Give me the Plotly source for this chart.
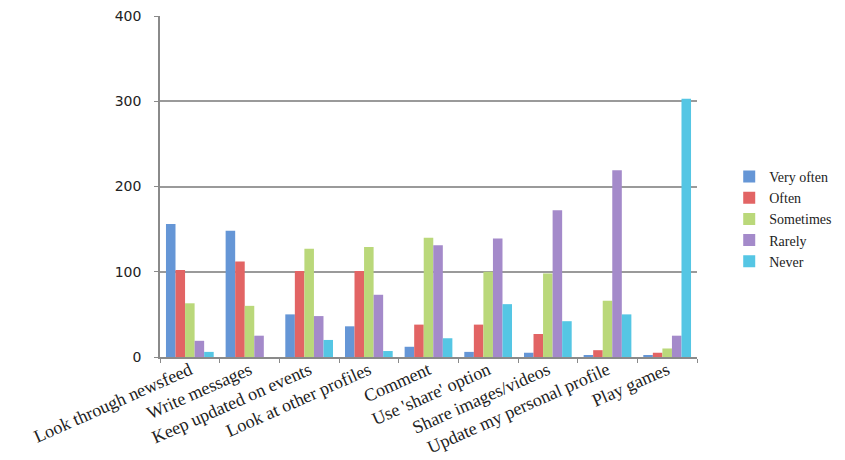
import plotly.graph_objects as go

categories = ["Look through newsfeed", "Write messages", "Keep updated on events",
              "Look at other profiles", "Comment", "Use 'share' option",
              "Share images/videos", "Update my personal profile", "Play games"]
very_often = [156, 148, 50, 36, 12, 6, 5, 2, 2]
often = [102, 112, 101, 101, 38, 38, 27, 8, 5]
sometimes = [63, 60, 127, 129, 140, 100, 98, 66, 10]
rarely = [19, 25, 48, 73, 131, 139, 172, 219, 25]
never = [6, 0, 20, 7, 22, 62, 42, 50, 303]

series = [("Very often", very_often, "#6596d6"),
          ("Often", often, "#e26464"),
          ("Sometimes", sometimes, "#bad87a"),
          ("Rarely", rarely, "#a48aca"),
          ("Never", never, "#55c6e4")]

fig = go.Figure()
for name, vals, col in series:
    fig.add_trace(go.Bar(x=categories, y=vals, name=name, marker_color=col,
                         marker_line_width=0))

fig.update_layout(
    width=845, height=460,
    margin=dict(l=160, r=148, t=16, b=103, autoexpand=False),
    paper_bgcolor="white", plot_bgcolor="white",
    barmode="group", bargap=0.2, bargroupgap=0,
    showlegend=True,
    legend=dict(x=1.06, y=0.405, yanchor="middle", xanchor="left",
                font=dict(family="Liberation Serif", size=14, color="#222"),
                tracegroupgap=0, itemwidth=30, bgcolor="rgba(0,0,0,0)"),
    xaxis=dict(tickangle=-24, tickfont=dict(family="Liberation Serif", size=18, color="#222"),
               showline=True, linecolor="#8a8a8a", linewidth=1.5,
               ticks="outside", ticklen=4, tickcolor="#8a8a8a",
               ticklabelstandoff=-6,
               tickson="boundaries", showgrid=False, automargin=False),
    yaxis=dict(range=[0, 400], dtick=100,
               tickfont=dict(family="DejaVu Sans", size=14, color="#222"),
               showline=True, linecolor="#8a8a8a", linewidth=1.5,
               ticks="outside", ticklen=4, tickcolor="#8a8a8a",
               ticklabelstandoff=10,
               gridcolor="#9a9a9a", gridwidth=1.5, zeroline=False, automargin=False),
)

fig.write_html("out.html")
